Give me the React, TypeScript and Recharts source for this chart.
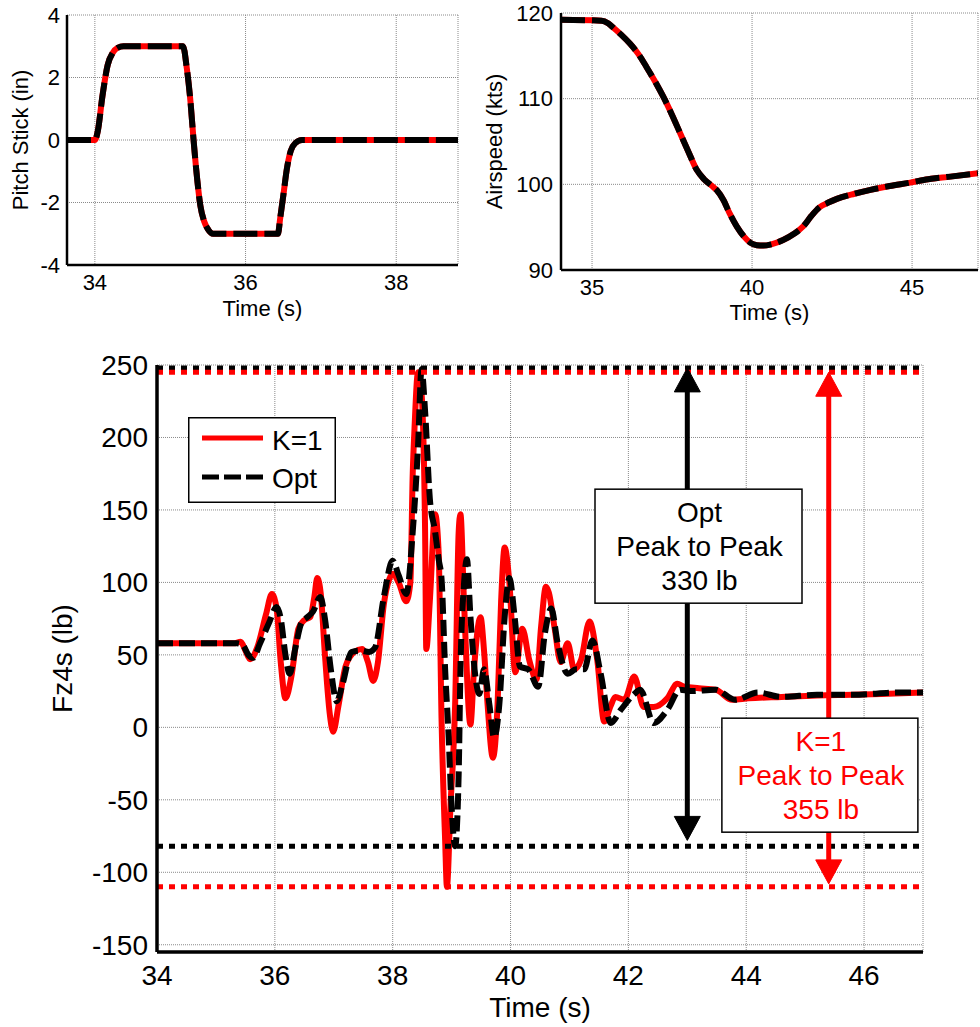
import React from 'react';
import { LineChart, Line, XAxis, YAxis, CartesianGrid, ReferenceLine, ReferenceDot } from 'recharts';

const FONT = '"Liberation Sans", Arial, Helvetica, sans-serif';
const RED = '#ff0000';
const BLACK = '#000000';

// pitch stick input, same for both runs (s, in)
const stick: [number, number][] = [
  [33.63, 0], [34.0, 0], [34.04, 0.3], [34.1, 1.4], [34.17, 2.4], [34.24, 2.8], [34.3, 2.95], [34.38, 3],
  [35.17, 3], [35.22, 2.3], [35.27, 1.2], [35.31, 0], [35.36, -1.3], [35.4, -2.1], [35.45, -2.6], [35.5, -2.85],
  [35.57, -3], [36.43, -3], [36.46, -2.5], [36.5, -1.8], [36.55, -0.9], [36.6, -0.35], [36.66, -0.1], [36.75, 0],
  [38.82, 0],
];

// airspeed, same for both runs (s, kts)
const airspeed: [number, number][] = [
  [34.03, 119.2], [35.3, 119.1], [35.5, 118.8], [35.66, 118.3], [35.9, 117.5], [36.19, 116.4], [36.45, 115.2],
  [36.7, 113.7], [37.0, 111.8], [37.23, 110.2], [37.5, 108.1], [37.75, 106], [38.0, 103.9], [38.27, 101.7],
  [38.5, 100.6], [38.75, 99.8], [38.9, 99.3], [39.1, 98.2], [39.3, 96.6], [39.52, 95.1], [39.75, 93.9],
  [39.94, 93.2], [40.15, 92.9], [40.35, 92.85], [40.6, 93.0], [40.97, 93.5], [41.3, 94.2], [41.6, 95.1],
  [41.85, 96.3], [42.1, 97.3], [42.4, 97.9], [42.65, 98.3], [43.2, 98.9], [43.7, 99.35], [44.3, 99.8],
  [44.94, 100.2], [45.5, 100.6], [46.2, 100.9], [47.06, 101.3],
];

// Fz4s, K=1 run (s, lb)
const kRun: [number, number][] = [
  [34.0, 58], [35.3, 58], [35.42, 59], [35.5, 53], [35.58, 47], [35.7, 55], [35.85, 78], [35.95, 92], [36.03, 82],
  [36.1, 45], [36.18, 20], [36.28, 35], [36.4, 68], [36.5, 74], [36.6, 76], [36.67, 90], [36.72, 103], [36.78, 92],
  [36.85, 50], [36.93, 10], [36.99, -3], [37.08, 15], [37.2, 42], [37.35, 52], [37.48, 54], [37.58, 45], [37.67, 32],
  [37.75, 45], [37.85, 85], [37.94, 102], [38.0, 106], [38.1, 100], [38.23, 87], [38.3, 100], [38.34, 175],
  [38.37, 206], [38.43, 245], [38.49, 230], [38.55, 135], [38.57, 54], [38.63, 87], [38.72, 147], [38.78, 121],
  [38.83, 4], [38.89, -78], [38.92, -110], [38.98, -55], [39.06, 16], [39.12, 135], [39.15, 147], [39.21, 87],
  [39.32, 2], [39.38, 40], [39.49, 76], [39.55, 53], [39.61, 16], [39.7, -21], [39.78, 16], [39.84, 87],
  [39.9, 124], [39.98, 100], [40.08, 38], [40.2, 68], [40.32, 46], [40.44, 33], [40.52, 70], [40.6, 97],
  [40.65, 93], [40.75, 68], [40.85, 45], [40.97, 58], [41.08, 40], [41.2, 47], [41.34, 73], [41.47, 47],
  [41.59, 4], [41.7, 15], [41.78, 21], [41.93, 19], [42.1, 35], [42.26, 14], [42.43, 14], [42.66, 20],
  [42.83, 30], [42.95, 28], [43.2, 27], [43.48, 26], [43.76, 19], [44.04, 20], [44.6, 21], [45.2, 22],
  [45.8, 22.5], [46.3, 23], [47.0, 24],
];

// Fz4s, optimised run (s, lb)
const optRun: [number, number][] = [
  [34.0, 58], [35.35, 58], [35.45, 57], [35.55, 50], [35.63, 48], [35.75, 58], [35.9, 72], [36.03, 83], [36.1, 75],
  [36.18, 50], [36.25, 37], [36.35, 55], [36.45, 72], [36.55, 76], [36.65, 80], [36.77, 90], [36.85, 75],
  [36.95, 40], [37.05, 18], [37.15, 30], [37.3, 52], [37.45, 53], [37.6, 52], [37.7, 55], [37.85, 90], [38.0, 115],
  [38.1, 105], [38.23, 92], [38.34, 135], [38.43, 194], [38.49, 247], [38.55, 218], [38.63, 158], [38.72, 135],
  [38.78, 116], [38.83, 102], [38.89, 40], [38.95, -7], [39.0, -55], [39.06, -82], [39.12, -32], [39.15, 40],
  [39.21, 99], [39.26, 116], [39.32, 76], [39.41, 33], [39.47, 23], [39.55, 40], [39.64, 16], [39.72, -7],
  [39.81, 16], [39.9, 76], [39.98, 103], [40.07, 76], [40.16, 42], [40.3, 40], [40.47, 28], [40.58, 64],
  [40.69, 82], [40.8, 58], [40.97, 37], [41.11, 40], [41.25, 40], [41.39, 60], [41.53, 37], [41.7, 3],
  [41.87, 12], [42.1, 23], [42.2, 26], [42.43, 3], [42.66, 12], [42.88, 26], [43.05, 25], [43.48, 26],
  [43.81, 19], [44.2, 24], [44.6, 21], [45.2, 22.5], [45.8, 22.5], [46.6, 24], [47.0, 24],
];

// peak-to-peak bounds
const optPeak = { max: 248, min: -82, arrowT: 43.0, boxT: 43.19, boxV: 125 };
const kPeak = { max: 245, min: -110, arrowT: 45.4, boxT: 45.25, boxV: -33 };

const stickTicksX = [34, 36, 38];
const stickTicksY = [-4, -2, 0, 2, 4];
const speedTicksX = [35, 40, 45];
const speedTicksY = [90, 100, 110, 120];
const fzTicksX = [34, 36, 38, 40, 42, 44, 46];
const fzTicksY = [-150, -100, -50, 0, 50, 100, 150, 200, 250];

const rows = (pts: [number, number][]) => pts.map(([t, v]) => ({ t, v }));

const gridProps = { stroke: '#8a8a8a', strokeDasharray: '1 1' };

const tickStyle = (size: number) => ({ fill: BLACK, fontSize: size, fontFamily: FONT });
const labelStyle = (size: number) => ({ fill: BLACK, fontSize: size, fontFamily: FONT, textAnchor: 'middle' as const });

const arrowHead = (dir: 'up' | 'down', color: string) => (props: any) => {
  const { cx, cy } = props;
  const s = dir === 'up' ? 1 : -1;
  const pts = `${cx},${cy} ${cx - 13},${cy + s * 24} ${cx + 13},${cy + s * 24}`;
  return <polygon points={pts} fill={color} stroke={color} strokeWidth={1} strokeLinejoin="round" />;
};

const textBox = (lines: string[], color: string, w: number, h: number) => (props: any) => {
  const { cx, cy } = props;
  const offs = [-24, 10, 44];
  return (
    <g>
      <rect x={cx - w / 2} y={cy - h / 2} width={w} height={h} fill="#fff" stroke={BLACK} strokeWidth={1.5} />
      {lines.map((s, i) => (
        <text key={i} x={cx + 1} y={cy + offs[i]} textAnchor="middle" fill={color} fontSize={28} fontFamily={FONT}>
          {s}
        </text>
      ))}
    </g>
  );
};

const TopPair: React.FC<{
  data: { t: number; v: number }[];
  width: number;
  left: number;
  top: number;
  yWidth: number;
  xHeight: number;
  right: number;
  xDomain: [number, number];
  yDomain: [number, number];
  xTicks: number[];
  yTicks: number[];
  yLabel: string;
  yLabelOffset: number;
  yTickMargin: number;
  xLabelOffset: number;
}> = (p) => (
  <div style={{ position: 'absolute', left: p.left, top: 0 }}>
    <LineChart width={p.width} height={330} margin={{ top: p.top, right: p.right, left: 0, bottom: 0 }}>
      <CartesianGrid {...gridProps} />
      <XAxis
        type="number"
        dataKey="t"
        domain={p.xDomain}
        ticks={p.xTicks}
        interval={0}
        allowDataOverflow
        height={p.xHeight}
        tickLine={false}
        tickMargin={3}
        axisLine={{ stroke: BLACK, strokeWidth: 2.5 }}
        tick={tickStyle(22)}
        label={{ value: 'Time (s)', position: 'insideBottom', offset: p.xLabelOffset, style: labelStyle(22) }}
      />
      <YAxis
        type="number"
        domain={p.yDomain}
        ticks={p.yTicks}
        interval={0}
        allowDataOverflow
        width={p.yWidth}
        tickLine={false}
        tickMargin={p.yTickMargin}
        axisLine={{ stroke: BLACK, strokeWidth: 2.5 }}
        tick={tickStyle(22)}
        label={{ value: p.yLabel, angle: -90, position: 'insideLeft', offset: p.yLabelOffset, style: labelStyle(22) }}
      />
      <Line data={p.data} dataKey="v" name="K=1" type="monotone" stroke={RED} strokeWidth={6} dot={false} isAnimationActive={false} />
      <Line data={p.data} dataKey="v" name="Opt" type="monotone" stroke={BLACK} strokeWidth={6} strokeDasharray="24 7" dot={false} isAnimationActive={false} />
    </LineChart>
  </div>
);

const Legend: React.FC = () => (
  <svg style={{ position: 'absolute', left: 188, top: 417 }} width={148} height={86}>
    <rect x={0.75} y={0.75} width={146.5} height={84.5} fill="#fff" stroke={BLACK} strokeWidth={1.5} />
    <line x1={14} y1={21} x2={75} y2={21} stroke={RED} strokeWidth={5} />
    <line x1={14} y1={60} x2={75} y2={60} stroke={BLACK} strokeWidth={5} strokeDasharray="17 5" />
    <text x={84} y={33} fontSize={28} fontFamily={FONT} fill={BLACK}>K=1</text>
    <text x={84} y={71} fontSize={28} fontFamily={FONT} fill={BLACK}>Opt</text>
  </svg>
);

export default function App() {
  const stickRows = rows(stick);
  const speedRows = rows(airspeed);
  const kRows = rows(kRun);
  const optRows = rows(optRun);

  return (
    <div style={{ position: 'absolute', left: 0, top: 0, width: 980, height: 1027, background: '#fff', fontFamily: FONT }}>
      <TopPair
        data={stickRows}
        width={470}
        left={0}
        top={15}
        right={12}
        yWidth={67}
        xHeight={65}
        xDomain={[33.63, 38.82]}
        yDomain={[-4, 4]}
        xTicks={stickTicksX}
        yTicks={stickTicksY}
        yLabel="Pitch Stick (in)"
        yLabelOffset={20}
        yTickMargin={1}
        xLabelOffset={14}
      />
      <TopPair
        data={speedRows}
        width={510}
        left={470}
        top={13}
        right={2}
        yWidth={91}
        xHeight={60}
        xDomain={[34.03, 47.06]}
        yDomain={[90, 120]}
        xTicks={speedTicksX}
        yTicks={speedTicksY}
        yLabel="Airspeed (kts)"
        yLabelOffset={24}
        yTickMargin={2}
        xLabelOffset={10}
      />

      <div style={{ position: 'absolute', left: 0, top: 340 }}>
        <LineChart width={980} height={687} margin={{ top: 25, right: 57, left: 0, bottom: 0 }}>
          <CartesianGrid {...gridProps} />
          <XAxis
            type="number"
            dataKey="t"
            domain={[34, 47]}
            ticks={fzTicksX}
            interval={0}
            allowDataOverflow
            height={75}
            tickLine={false}
            tickMargin={7}
            axisLine={{ stroke: BLACK, strokeWidth: 3.5 }}
            tick={tickStyle(28)}
            label={{ value: 'Time (s)', position: 'insideBottom', offset: 10, style: labelStyle(28) }}
          />
          <YAxis
            type="number"
            domain={[-155, 250]}
            ticks={fzTicksY}
            interval={0}
            allowDataOverflow
            width={157}
            tickLine={false}
            tickMargin={3}
            axisLine={{ stroke: BLACK, strokeWidth: 3.5 }}
            tick={tickStyle(28)}
            label={{ value: 'Fz4s (lb)', angle: -90, position: 'insideLeft', offset: 62, style: labelStyle(28) }}
          />
          <Line data={kRows} dataKey="v" name="K=1" type="monotone" stroke={RED} strokeWidth={6} dot={false} isAnimationActive={false} />
          <Line data={optRows} dataKey="v" name="Opt" type="monotone" stroke={BLACK} strokeWidth={6} strokeDasharray="16 6" dot={false} isAnimationActive={false} />

          <ReferenceLine y={optPeak.max} stroke={BLACK} strokeWidth={5} strokeDasharray="6 6" />
          <ReferenceLine y={kPeak.max} stroke={RED} strokeWidth={5} strokeDasharray="6 6" />
          <ReferenceLine y={optPeak.min} stroke={BLACK} strokeWidth={5} strokeDasharray="6 6" />
          <ReferenceLine y={kPeak.min} stroke={RED} strokeWidth={5} strokeDasharray="6 6" />

          <ReferenceLine segment={[{ x: optPeak.arrowT, y: optPeak.min + 8 }, { x: optPeak.arrowT, y: optPeak.max - 8 }]} stroke={BLACK} strokeWidth={5} />
          <ReferenceLine segment={[{ x: kPeak.arrowT, y: kPeak.min + 8 }, { x: kPeak.arrowT, y: kPeak.max - 8 }]} stroke={RED} strokeWidth={5} />
          <ReferenceDot x={optPeak.arrowT} y={optPeak.max} shape={arrowHead('up', BLACK)} />
          <ReferenceDot x={optPeak.arrowT} y={optPeak.min + 4} shape={arrowHead('down', BLACK)} />
          <ReferenceDot x={kPeak.arrowT} y={kPeak.max} shape={arrowHead('up', RED)} />
          <ReferenceDot x={kPeak.arrowT} y={kPeak.min + 2} shape={arrowHead('down', RED)} />

          <ReferenceDot
            x={optPeak.boxT}
            y={optPeak.boxV}
            shape={textBox(['Opt', 'Peak to Peak', `${optPeak.max - optPeak.min} lb`], BLACK, 207, 114)}
          />
          <ReferenceDot
            x={kPeak.boxT}
            y={kPeak.boxV}
            shape={textBox(['K=1', 'Peak to Peak', `${kPeak.max - kPeak.min} lb`], RED, 196, 114)}
          />
        </LineChart>
      </div>
      <Legend />
    </div>
  );
}
